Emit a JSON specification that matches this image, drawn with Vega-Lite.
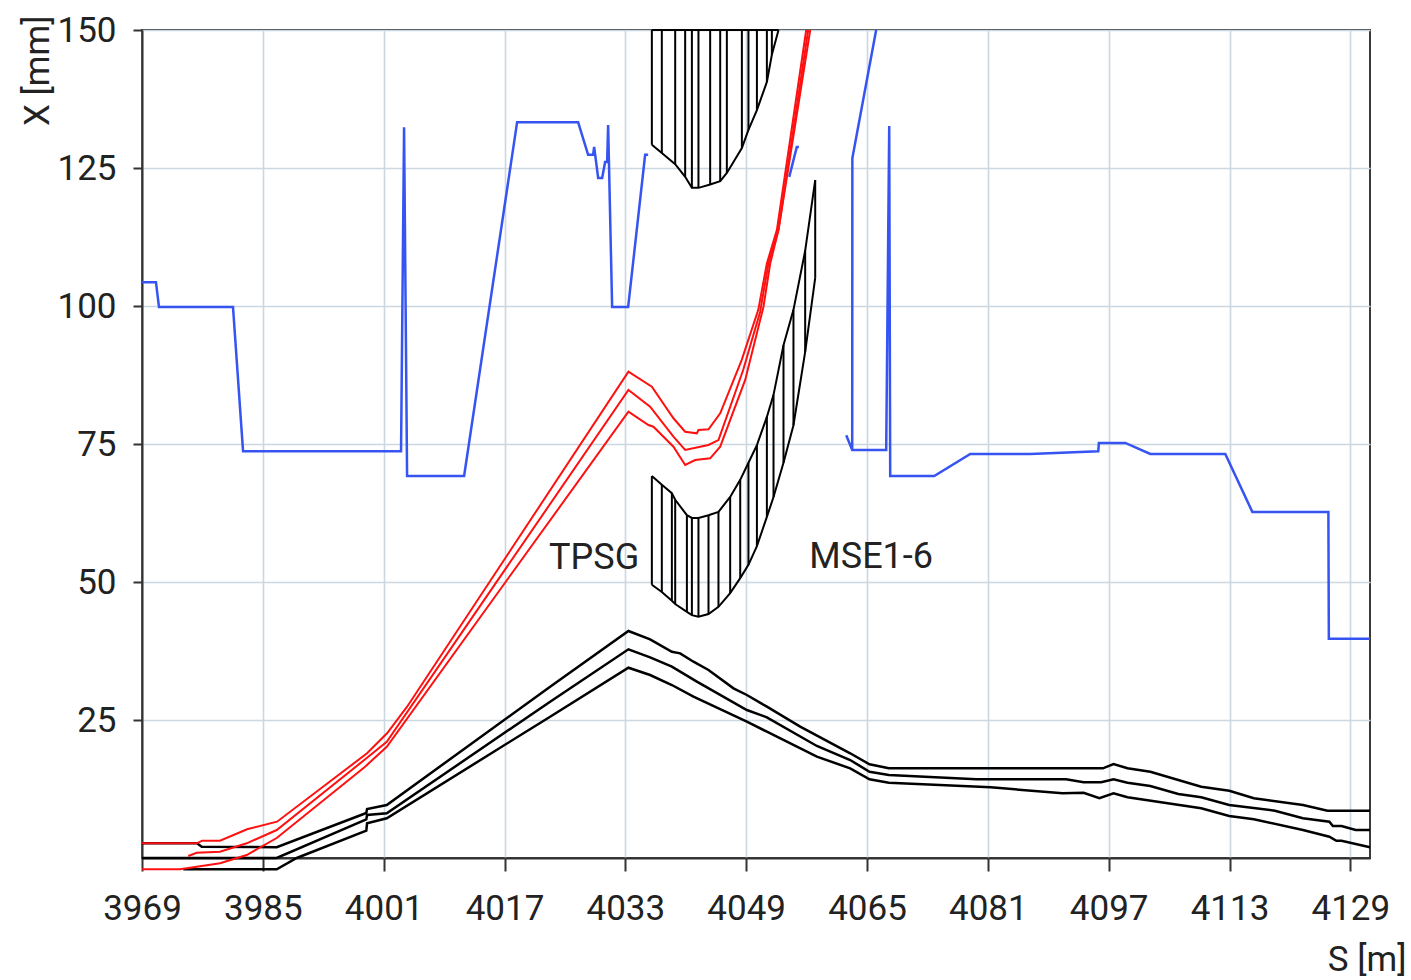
{
  "$schema": "https://vega.github.io/schema/vega-lite/v6.json",
  "width": 1228,
  "height": 828,
  "autosize": {"type": "none"},
  "padding": {"left": 142, "top": 30, "right": 41, "bottom": 122},
  "background": "white",
  "config": {
    "view": {"stroke": "#3a3a3a", "strokeWidth": 2},
    "font": "Roboto"
  },
  "datasets": {
    "hatch": [
      {"zone": 1, "s": 4036.51, "lo": 129.2, "hi": 150},
      {"zone": 1, "s": 4037.83, "lo": 127.7, "hi": 150},
      {"zone": 1, "s": 4039.60, "lo": 125.7, "hi": 150},
      {"zone": 1, "s": 4040.92, "lo": 123.4, "hi": 150},
      {"zone": 1, "s": 4041.81, "lo": 121.4, "hi": 150},
      {"zone": 1, "s": 4042.68, "lo": 121.4, "hi": 150},
      {"zone": 1, "s": 4044.23, "lo": 122.0, "hi": 150},
      {"zone": 1, "s": 4045.56, "lo": 122.6, "hi": 150},
      {"zone": 1, "s": 4046.44, "lo": 124.1, "hi": 150},
      {"zone": 1, "s": 4048.43, "lo": 128.6, "hi": 150},
      {"zone": 1, "s": 4049.30, "lo": 131.9, "hi": 150},
      {"zone": 1, "s": 4050.42, "lo": 135.5, "hi": 150},
      {"zone": 1, "s": 4051.74, "lo": 140.6, "hi": 150},
      {"zone": 1, "s": 4052.40, "lo": 145.5, "hi": 150},
      {"zone": 1, "s": 4053.28, "lo": 150, "hi": 150},
      {"zone": 2, "s": 4036.51, "lo": 49.5, "hi": 69.2},
      {"zone": 2, "s": 4037.83, "lo": 48.2, "hi": 67.6},
      {"zone": 2, "s": 4039.16, "lo": 46.6, "hi": 66.1},
      {"zone": 2, "s": 4039.60, "lo": 46.0, "hi": 64.9},
      {"zone": 2, "s": 4041.15, "lo": 44.6, "hi": 62.1},
      {"zone": 2, "s": 4041.81, "lo": 44.0, "hi": 61.6},
      {"zone": 2, "s": 4042.68, "lo": 43.7, "hi": 61.6},
      {"zone": 2, "s": 4044.01, "lo": 44.2, "hi": 62.1},
      {"zone": 2, "s": 4045.33, "lo": 45.5, "hi": 62.7},
      {"zone": 2, "s": 4046.88, "lo": 48.0, "hi": 65.4},
      {"zone": 2, "s": 4048.21, "lo": 50.7, "hi": 68.5},
      {"zone": 2, "s": 4049.30, "lo": 53.1, "hi": 71.6},
      {"zone": 2, "s": 4050.42, "lo": 56.5, "hi": 74.8},
      {"zone": 2, "s": 4051.74, "lo": 61.8, "hi": 79.9},
      {"zone": 2, "s": 4052.62, "lo": 65.4, "hi": 83.9},
      {"zone": 2, "s": 4053.94, "lo": 71.6, "hi": 92.9},
      {"zone": 2, "s": 4055.26, "lo": 78.4, "hi": 99.3},
      {"zone": 2, "s": 4056.81, "lo": 91.7, "hi": 110.0},
      {"zone": 2, "s": 4058.14, "lo": 105.1, "hi": 122.8}
    ],
    "blue": [
      {"seg": "A", "i": 1, "s": 3969.0, "X": 104.3},
      {"seg": "A", "i": 2, "s": 3970.85, "X": 104.3},
      {"seg": "A", "i": 3, "s": 3971.25, "X": 99.8},
      {"seg": "A", "i": 4, "s": 3981.05, "X": 99.8},
      {"seg": "A", "i": 5, "s": 3982.38, "X": 73.7},
      {"seg": "A", "i": 6, "s": 4003.30, "X": 73.7},
      {"seg": "A", "i": 7, "s": 4003.70, "X": 132.4},
      {"seg": "A", "i": 8, "s": 4004.10, "X": 69.2},
      {"seg": "A", "i": 9, "s": 4011.65, "X": 69.2},
      {"seg": "A", "i": 10, "s": 4018.67, "X": 133.3},
      {"seg": "A", "i": 11, "s": 4026.75, "X": 133.3},
      {"seg": "A", "i": 12, "s": 4028.07, "X": 127.4},
      {"seg": "A", "i": 13, "s": 4028.73, "X": 127.4},
      {"seg": "A", "i": 14, "s": 4028.87, "X": 128.8},
      {"seg": "A", "i": 15, "s": 4029.40, "X": 123.2},
      {"seg": "A", "i": 16, "s": 4029.93, "X": 123.2},
      {"seg": "A", "i": 17, "s": 4030.32, "X": 126.1},
      {"seg": "A", "i": 18, "s": 4030.59, "X": 126.1},
      {"seg": "A", "i": 19, "s": 4030.72, "X": 132.8},
      {"seg": "A", "i": 20, "s": 4031.25, "X": 99.8},
      {"seg": "A", "i": 21, "s": 4033.37, "X": 99.8},
      {"seg": "A", "i": 22, "s": 4035.62, "X": 127.4},
      {"seg": "A", "i": 23, "s": 4036.02, "X": 127.4},
      {"seg": "B", "i": 1, "s": 4054.70, "X": 123.4},
      {"seg": "B", "i": 2, "s": 4055.70, "X": 128.8},
      {"seg": "B", "i": 3, "s": 4055.98, "X": 128.8},
      {"seg": "C", "i": 1, "s": 4062.25, "X": 76.6},
      {"seg": "C", "i": 2, "s": 4063.04, "X": 73.9},
      {"seg": "C", "i": 3, "s": 4067.54, "X": 73.9},
      {"seg": "C", "i": 4, "s": 4067.94, "X": 132.6},
      {"seg": "C", "i": 5, "s": 4068.07, "X": 69.2},
      {"seg": "C", "i": 6, "s": 4073.90, "X": 69.2},
      {"seg": "C", "i": 7, "s": 4078.67, "X": 73.2},
      {"seg": "C", "i": 8, "s": 4086.61, "X": 73.2},
      {"seg": "C", "i": 9, "s": 4095.62, "X": 73.7},
      {"seg": "C", "i": 10, "s": 4095.70, "X": 75.2},
      {"seg": "C", "i": 11, "s": 4099.20, "X": 75.2},
      {"seg": "C", "i": 12, "s": 4102.51, "X": 73.2},
      {"seg": "C", "i": 13, "s": 4112.44, "X": 73.2},
      {"seg": "C", "i": 14, "s": 4116.02, "X": 62.7},
      {"seg": "C", "i": 15, "s": 4126.09, "X": 62.7},
      {"seg": "C", "i": 16, "s": 4126.15, "X": 39.7},
      {"seg": "C", "i": 17, "s": 4131.6, "X": 39.7},
      {"seg": "D", "i": 1, "s": 4063.04, "X": 73.9},
      {"seg": "D", "i": 2, "s": 4063.06, "X": 126.8},
      {"seg": "D", "i": 3, "s": 4066.21, "X": 150}
    ],
    "black": [
      {"line": "B1", "i": 1, "s": 3969.0, "X": 2.66},
      {"line": "B1", "i": 2, "s": 3976.28, "X": 2.66},
      {"line": "B1", "i": 3, "s": 3976.91, "X": 2.05},
      {"line": "B1", "i": 4, "s": 3986.84, "X": 1.94},
      {"line": "B1", "i": 5, "s": 3998.70, "X": 8.15},
      {"line": "B1", "i": 6, "s": 3998.80, "X": 8.88},
      {"line": "B1", "i": 7, "s": 4001.41, "X": 9.60},
      {"line": "B1", "i": 8, "s": 4023.04, "X": 31.03},
      {"line": "B1", "i": 9, "s": 4033.41, "X": 41.12},
      {"line": "B1", "i": 10, "s": 4036.28, "X": 39.62},
      {"line": "B1", "i": 11, "s": 4039.16, "X": 37.37},
      {"line": "B1", "i": 12, "s": 4040.26, "X": 37.08},
      {"line": "B1", "i": 13, "s": 4042.02, "X": 35.56},
      {"line": "B1", "i": 14, "s": 4044.01, "X": 34.06},
      {"line": "B1", "i": 15, "s": 4047.32, "X": 30.74},
      {"line": "B1", "i": 16, "s": 4049.09, "X": 29.53},
      {"line": "B1", "i": 17, "s": 4051.74, "X": 27.41},
      {"line": "B1", "i": 18, "s": 4056.15, "X": 23.79},
      {"line": "B1", "i": 19, "s": 4062.77, "X": 18.97},
      {"line": "B1", "i": 20, "s": 4065.33, "X": 16.97},
      {"line": "B1", "i": 21, "s": 4067.89, "X": 16.25},
      {"line": "B1", "i": 22, "s": 4096.23, "X": 16.25},
      {"line": "B1", "i": 23, "s": 4097.64, "X": 17.03},
      {"line": "B1", "i": 24, "s": 4099.49, "X": 16.25},
      {"line": "B1", "i": 25, "s": 4102.51, "X": 15.63},
      {"line": "B1", "i": 26, "s": 4109.25, "X": 12.92},
      {"line": "B1", "i": 27, "s": 4112.97, "X": 12.19},
      {"line": "B1", "i": 28, "s": 4116.22, "X": 10.82},
      {"line": "B1", "i": 29, "s": 4122.72, "X": 9.60},
      {"line": "B1", "i": 30, "s": 4125.98, "X": 8.57},
      {"line": "B1", "i": 31, "s": 4131.6, "X": 8.57},
      {"line": "B2", "i": 1, "s": 3969.0, "X": 0},
      {"line": "B2", "i": 2, "s": 3986.84, "X": 0},
      {"line": "B2", "i": 3, "s": 3998.70, "X": 7.01},
      {"line": "B2", "i": 4, "s": 3998.80, "X": 7.79},
      {"line": "B2", "i": 5, "s": 4001.41, "X": 8.10},
      {"line": "B2", "i": 6, "s": 4023.04, "X": 28.32},
      {"line": "B2", "i": 7, "s": 4033.41, "X": 37.81},
      {"line": "B2", "i": 8, "s": 4036.28, "X": 36.36},
      {"line": "B2", "i": 9, "s": 4039.16, "X": 34.66},
      {"line": "B2", "i": 10, "s": 4042.47, "X": 31.94},
      {"line": "B2", "i": 11, "s": 4049.09, "X": 26.81},
      {"line": "B2", "i": 12, "s": 4051.74, "X": 25.49},
      {"line": "B2", "i": 13, "s": 4058.36, "X": 20.29},
      {"line": "B2", "i": 14, "s": 4062.77, "X": 17.75},
      {"line": "B2", "i": 15, "s": 4065.33, "X": 15.63},
      {"line": "B2", "i": 16, "s": 4067.89, "X": 15.04},
      {"line": "B2", "i": 17, "s": 4079.50, "X": 14.26},
      {"line": "B2", "i": 18, "s": 4091.36, "X": 14.26},
      {"line": "B2", "i": 19, "s": 4093.68, "X": 13.71},
      {"line": "B2", "i": 20, "s": 4096.01, "X": 13.71},
      {"line": "B2", "i": 21, "s": 4097.64, "X": 14.26},
      {"line": "B2", "i": 22, "s": 4099.49, "X": 13.64},
      {"line": "B2", "i": 23, "s": 4102.51, "X": 13.04},
      {"line": "B2", "i": 24, "s": 4106.22, "X": 11.59},
      {"line": "B2", "i": 25, "s": 4109.25, "X": 11.00},
      {"line": "B2", "i": 26, "s": 4112.96, "X": 9.60},
      {"line": "B2", "i": 27, "s": 4119.01, "X": 8.57},
      {"line": "B2", "i": 28, "s": 4122.72, "X": 7.19},
      {"line": "B2", "i": 29, "s": 4126.22, "X": 6.58},
      {"line": "B2", "i": 30, "s": 4126.68, "X": 5.80},
      {"line": "B2", "i": 31, "s": 4127.83, "X": 5.80},
      {"line": "B2", "i": 32, "s": 4129.70, "X": 5.07},
      {"line": "B2", "i": 33, "s": 4131.6, "X": 5.07},
      {"line": "B3", "i": 1, "s": 3974.47, "X": -2.05},
      {"line": "B3", "i": 2, "s": 3986.84, "X": -2.05},
      {"line": "B3", "i": 3, "s": 3989.49, "X": 0},
      {"line": "B3", "i": 4, "s": 3998.70, "X": 4.95},
      {"line": "B3", "i": 5, "s": 3998.80, "X": 6.29},
      {"line": "B3", "i": 6, "s": 4001.41, "X": 7.19},
      {"line": "B3", "i": 7, "s": 4023.04, "X": 25.60},
      {"line": "B3", "i": 8, "s": 4033.41, "X": 34.47},
      {"line": "B3", "i": 9, "s": 4036.28, "X": 33.15},
      {"line": "B3", "i": 10, "s": 4039.16, "X": 31.34},
      {"line": "B3", "i": 11, "s": 4042.02, "X": 29.22},
      {"line": "B3", "i": 12, "s": 4049.09, "X": 24.69},
      {"line": "B3", "i": 13, "s": 4051.74, "X": 22.88},
      {"line": "B3", "i": 14, "s": 4058.36, "X": 18.35},
      {"line": "B3", "i": 15, "s": 4062.77, "X": 16.25},
      {"line": "B3", "i": 16, "s": 4065.33, "X": 14.26},
      {"line": "B3", "i": 17, "s": 4067.89, "X": 13.64},
      {"line": "B3", "i": 18, "s": 4081.37, "X": 12.81},
      {"line": "B3", "i": 19, "s": 4090.89, "X": 11.72},
      {"line": "B3", "i": 20, "s": 4093.68, "X": 11.83},
      {"line": "B3", "i": 21, "s": 4095.77, "X": 10.82},
      {"line": "B3", "i": 22, "s": 4097.64, "X": 11.72},
      {"line": "B3", "i": 23, "s": 4099.49, "X": 11.00},
      {"line": "B3", "i": 24, "s": 4109.25, "X": 9.00},
      {"line": "B3", "i": 25, "s": 4112.96, "X": 7.61},
      {"line": "B3", "i": 26, "s": 4116.22, "X": 7.01},
      {"line": "B3", "i": 27, "s": 4122.72, "X": 5.07},
      {"line": "B3", "i": 28, "s": 4126.22, "X": 3.86},
      {"line": "B3", "i": 29, "s": 4127.15, "X": 3.13},
      {"line": "B3", "i": 30, "s": 4127.83, "X": 3.13},
      {"line": "B3", "i": 31, "s": 4131.6, "X": 1.94}
    ],
    "red": [
      {"line": "R1", "i": 1, "s": 3969.0, "X": 2.66},
      {"line": "R1", "i": 2, "s": 3976.28, "X": 2.66},
      {"line": "R1", "i": 3, "s": 3976.95, "X": 3.13},
      {"line": "R1", "i": 4, "s": 3979.33, "X": 3.13},
      {"line": "R1", "i": 5, "s": 3982.91, "X": 5.20},
      {"line": "R1", "i": 6, "s": 3986.88, "X": 6.58},
      {"line": "R1", "i": 7, "s": 3998.80, "X": 18.97},
      {"line": "R1", "i": 8, "s": 4001.45, "X": 22.59},
      {"line": "R1", "i": 9, "s": 4004.10, "X": 27.41},
      {"line": "R1", "i": 10, "s": 4033.41, "X": 88.10},
      {"line": "R1", "i": 11, "s": 4036.51, "X": 85.38},
      {"line": "R1", "i": 12, "s": 4039.37, "X": 79.66},
      {"line": "R1", "i": 13, "s": 4040.92, "X": 77.23},
      {"line": "R1", "i": 14, "s": 4042.47, "X": 76.94},
      {"line": "R1", "i": 15, "s": 4042.68, "X": 77.54},
      {"line": "R1", "i": 16, "s": 4044.01, "X": 77.66},
      {"line": "R1", "i": 17, "s": 4045.56, "X": 80.56},
      {"line": "R1", "i": 18, "s": 4048.40, "X": 90.20},
      {"line": "R1", "i": 19, "s": 4050.60, "X": 99.30},
      {"line": "R1", "i": 20, "s": 4051.74, "X": 107.70},
      {"line": "R1", "i": 21, "s": 4053.07, "X": 113.80},
      {"line": "R1", "i": 22, "s": 4056.95, "X": 150},
      {"line": "R2", "i": 1, "s": 3975.13, "X": 0.36},
      {"line": "R2", "i": 2, "s": 3976.24, "X": 0.96},
      {"line": "R2", "i": 3, "s": 3979.33, "X": 1.14},
      {"line": "R2", "i": 4, "s": 3982.87, "X": 2.66},
      {"line": "R2", "i": 5, "s": 3986.84, "X": 5.07},
      {"line": "R2", "i": 6, "s": 3998.76, "X": 18.12},
      {"line": "R2", "i": 7, "s": 4001.41, "X": 21.07},
      {"line": "R2", "i": 8, "s": 4033.41, "X": 84.78},
      {"line": "R2", "i": 9, "s": 4036.28, "X": 81.76},
      {"line": "R2", "i": 10, "s": 4039.37, "X": 76.32},
      {"line": "R2", "i": 11, "s": 4040.92, "X": 73.91},
      {"line": "R2", "i": 12, "s": 4042.91, "X": 74.51},
      {"line": "R2", "i": 13, "s": 4044.01, "X": 74.82},
      {"line": "R2", "i": 14, "s": 4045.33, "X": 75.72},
      {"line": "R2", "i": 15, "s": 4048.60, "X": 88.40},
      {"line": "R2", "i": 16, "s": 4050.85, "X": 98.97},
      {"line": "R2", "i": 17, "s": 4051.95, "X": 107.70},
      {"line": "R2", "i": 18, "s": 4053.28, "X": 113.80},
      {"line": "R2", "i": 19, "s": 4057.21, "X": 150},
      {"line": "R3", "i": 1, "s": 3969.0, "X": -2.05},
      {"line": "R3", "i": 2, "s": 3974.03, "X": -2.05},
      {"line": "R3", "i": 3, "s": 3976.91, "X": -1.45},
      {"line": "R3", "i": 4, "s": 3979.33, "X": -0.96},
      {"line": "R3", "i": 5, "s": 3982.87, "X": 0.54},
      {"line": "R3", "i": 6, "s": 3986.84, "X": 3.62},
      {"line": "R3", "i": 7, "s": 3998.54, "X": 16.54},
      {"line": "R3", "i": 8, "s": 4001.41, "X": 20.16},
      {"line": "R3", "i": 9, "s": 4033.41, "X": 80.85},
      {"line": "R3", "i": 10, "s": 4036.06, "X": 78.44},
      {"line": "R3", "i": 11, "s": 4036.72, "X": 78.13},
      {"line": "R3", "i": 12, "s": 4039.37, "X": 74.51},
      {"line": "R3", "i": 13, "s": 4040.92, "X": 71.20},
      {"line": "R3", "i": 14, "s": 4042.25, "X": 72.10},
      {"line": "R3", "i": 15, "s": 4044.23, "X": 72.41},
      {"line": "R3", "i": 16, "s": 4045.56, "X": 74.51},
      {"line": "R3", "i": 17, "s": 4048.87, "X": 86.60},
      {"line": "R3", "i": 18, "s": 4051.29, "X": 99.87},
      {"line": "R3", "i": 19, "s": 4052.18, "X": 107.70},
      {"line": "R3", "i": 20, "s": 4053.28, "X": 113.80},
      {"line": "R3", "i": 21, "s": 4057.48, "X": 150}
    ],
    "labels": [
      {"s": 4028.87, "X": 54.3, "label": "TPSG"},
      {"s": 4065.55, "X": 54.6, "label": "MSE1-6"}
    ]
  },
  "layer": [
    {
      "data": {"name": "hatch"},
      "mark": {"type": "rule", "color": "#000000", "strokeWidth": 2},
      "encoding": {
        "x": {
          "field": "s", "type": "quantitative",
          "scale": {"domain": [3969, 4131.6], "nice": false, "zero": false},
          "axis": {
            "values": [3969, 3985, 4001, 4017, 4033, 4049, 4065, 4081, 4097, 4113, 4129],
            "format": "d",
            "title": "S [m]",
            "titleX": 1264, "titleY": 112,
            "titleAlign": "right", "titleBaseline": "alphabetic",
            "titleFont": "Roboto", "titleFontSize": 35, "titleFontWeight": "normal", "titleColor": "#222222",
            "labelFont": "Roboto", "labelFontSize": 35, "labelColor": "#222222",
            "labelPadding": 20, "labelFlush": false, "labelOverlap": false,
            "tickSize": 13, "tickColor": "#333333", "tickWidth": 2,
            "domainColor": "#333333", "domainWidth": 2,
            "grid": true, "gridColor": "#cbd8e2", "gridWidth": 1.6
          }
        },
        "y": {
          "field": "lo", "type": "quantitative",
          "scale": {"domain": [0, 150], "nice": false, "zero": false},
          "axis": {
            "values": [25, 50, 75, 100, 125, 150],
            "title": "X [mm]",
            "titleX": -105, "titleY": -15,
            "titleAlign": "right", "titleBaseline": "middle", "titleAngle": -90,
            "titleFont": "Roboto", "titleFontSize": 35, "titleFontWeight": "normal", "titleColor": "#222222",
            "labelFont": "Roboto", "labelFontSize": 35, "labelColor": "#222222",
            "labelPadding": 17, "labelFlush": false, "labelOverlap": false,
            "tickSize": 9, "tickColor": "#333333", "tickWidth": 2,
            "domainColor": "#333333", "domainWidth": 2,
            "grid": true, "gridColor": "#cbd8e2", "gridWidth": 1.6
          }
        },
        "y2": {"field": "hi"}
      }
    },
    {
      "data": {"name": "hatch"},
      "mark": {"type": "line", "color": "#000000", "strokeWidth": 2},
      "encoding": {
        "x": {"field": "s", "type": "quantitative"},
        "y": {"field": "lo", "type": "quantitative"},
        "detail": {"field": "zone"}
      }
    },
    {
      "data": {"name": "hatch"},
      "mark": {"type": "line", "color": "#000000", "strokeWidth": 2},
      "encoding": {
        "x": {"field": "s", "type": "quantitative"},
        "y": {"field": "hi", "type": "quantitative"},
        "detail": {"field": "zone"}
      }
    },
    {
      "data": {"name": "blue"},
      "mark": {"type": "line", "color": "#3554f2", "strokeWidth": 2.5},
      "encoding": {
        "x": {"field": "s", "type": "quantitative"},
        "y": {"field": "X", "type": "quantitative"},
        "detail": {"field": "seg"},
        "order": {"field": "i", "type": "quantitative"}
      }
    },
    {
      "data": {"name": "black"},
      "mark": {"type": "line", "color": "#000000", "strokeWidth": 2.5},
      "encoding": {
        "x": {"field": "s", "type": "quantitative"},
        "y": {"field": "X", "type": "quantitative"},
        "detail": {"field": "line"},
        "order": {"field": "i", "type": "quantitative"}
      }
    },
    {
      "data": {"name": "red"},
      "mark": {"type": "line", "color": "#ff1010", "strokeWidth": 2},
      "encoding": {
        "x": {"field": "s", "type": "quantitative"},
        "y": {"field": "X", "type": "quantitative"},
        "detail": {"field": "line"},
        "order": {"field": "i", "type": "quantitative"}
      }
    },
    {
      "data": {"name": "labels"},
      "mark": {"type": "text", "font": "Roboto", "fontSize": 36, "color": "#222222", "align": "center", "baseline": "middle"},
      "encoding": {
        "x": {"field": "s", "type": "quantitative"},
        "y": {"field": "X", "type": "quantitative"},
        "text": {"field": "label"}
      }
    }
  ]
}
